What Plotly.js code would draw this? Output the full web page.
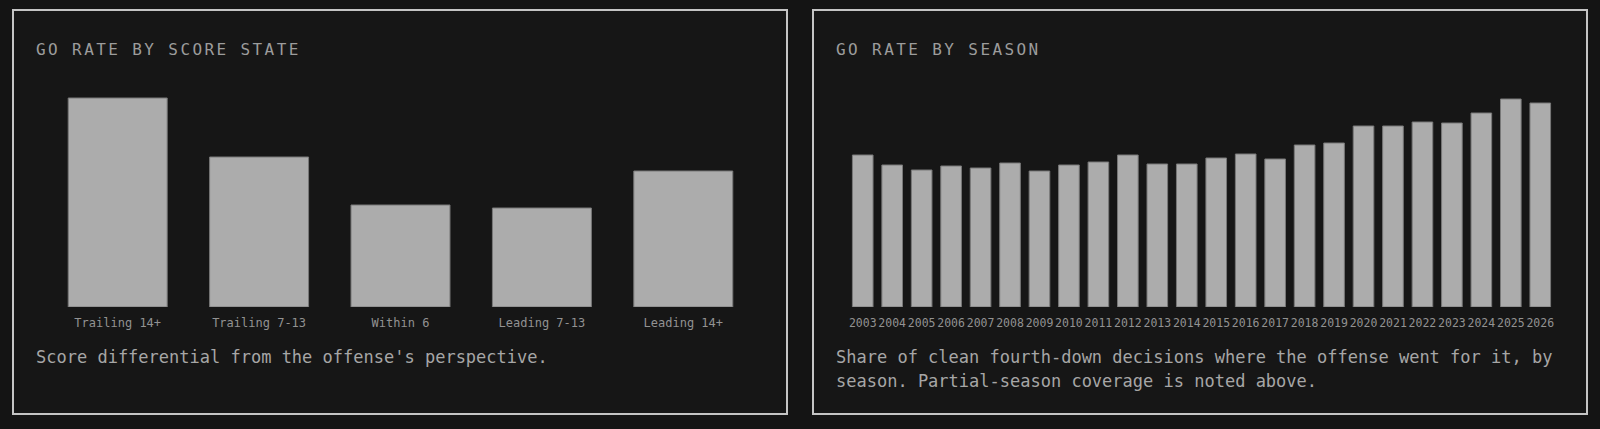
<!DOCTYPE html>
<html>
<head>
<meta charset="utf-8">
<script src="https://cdn.plot.ly/plotly-3.0.1.min.js"></script>
<style>
  html, body { margin: 0; padding: 0; background: #141414; }
  body { width: 1600px; height: 429px; position: relative; overflow: hidden;
         font-family: "DejaVu Sans Mono", monospace; }
  .panel { position: absolute; top: 9px; width: 776px; height: 406px;
           box-sizing: border-box; border: 2px solid #c4c4c4; background: #161616; }
  .panel h2 { position: absolute; left: 22px; top: 29px; margin: 0;
              font-size: 16px; line-height: 20px; font-weight: normal;
              letter-spacing: 2.4px; color: #9c9c9c; }
  .panel .chart { position: absolute; left: 0; top: 69px; width: 772px; height: 270px; }
  .panel p { position: absolute; left: 22px; top: 334px; width: 730px; margin: 0;
             font-size: 17px; line-height: 24px; color: #a6a6a6; }
</style>
</head>
<body>
<div class="panel" style="left:12px">
  <h2>GO RATE BY SCORE STATE</h2>
  <div class="chart" id="scoreChart"></div>
  <p>Score differential from the offense's perspective.</p>
</div>
<div class="panel" style="left:812px">
  <h2>GO RATE BY SEASON</h2>
  <div class="chart" id="seasonChart"></div>
  <p>Share of clean fourth-down decisions where the offense went for it, by season. Partial-season coverage is noted above.</p>
</div>
<script>
// go rate (%) by score state
const scoreStates = ["Trailing 14+", "Trailing 7-13", "Within 6", "Leading 7-13", "Leading 14+"];
const scoreGoRate = [20.9, 15.0, 10.2, 9.9, 13.6];

// go rate (%) by season
const seasons = ["2003", "2004", "2005", "2006", "2007", "2008", "2009", "2010", "2011", "2012",
  "2013", "2014", "2015", "2016", "2017", "2018", "2019", "2020", "2021", "2022",
  "2023", "2024", "2025", "2026"];
const seasonGoRate = [15.2, 14.2, 13.7, 14.1, 13.9, 14.4, 13.6, 14.2, 14.5, 15.2,
  14.3, 14.3, 14.9, 15.3, 14.8, 16.2, 16.4, 18.1, 18.1, 18.5,
  18.4, 19.4, 20.8, 20.4];

const config = { displayModeBar: false, staticPlot: true };

function barTrace(x, y) {
  return {
    type: "bar",
    x: x,
    y: y,
    marker: { color: "#acacac", line: { color: "#787878", width: 1 } },
    hoverinfo: "none"
  };
}

function barLayout(marginLeft, marginRight, tickSize) {
  return {
    width: 772,
    height: 270,
    margin: { l: marginLeft, r: marginRight, t: 8, b: 43 },
    paper_bgcolor: "rgba(0,0,0,0)",
    plot_bgcolor: "rgba(0,0,0,0)",
    bargap: 0.3,
    showlegend: false,
    font: { family: "DejaVu Sans Mono, monospace", color: "#929292", size: 12 },
    xaxis: {
      type: "category",
      tickangle: 0,
      showgrid: false,
      zeroline: false,
      showline: false,
      ticks: "",
      ticklabelstandoff: 7,
      tickfont: { size: tickSize, color: "#929292" }
    },
    yaxis: {
      range: [0, 21.9],
      visible: false,
      showgrid: false,
      zeroline: false
    }
  };
}

Plotly.newPlot("scoreChart", [barTrace(scoreStates, scoreGoRate)], barLayout(33, 32, 12), config);
Plotly.newPlot("seasonChart", [barTrace(seasons, seasonGoRate)], barLayout(34, 31, 11.5), config);
</script>
</body>
</html>
